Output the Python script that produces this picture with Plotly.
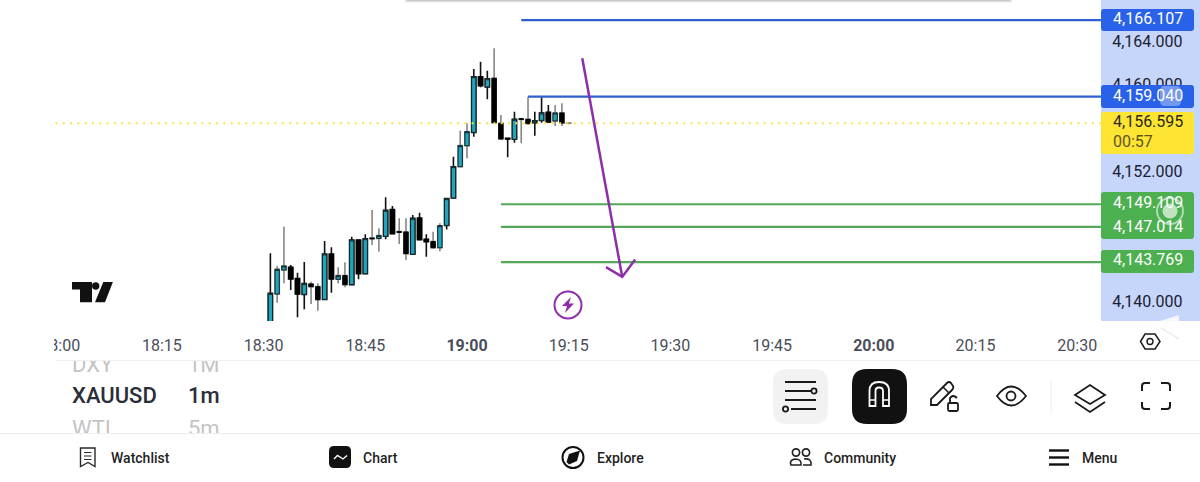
import plotly.graph_objects as go

W, H = 1200, 482
# --- data -----------------------------------------------------------------
minutes = list(range(31, 76))  # minutes after 18:00
opens = [4138.00,4140.82,4143.04,4143.29,4142.24,4140.79,4141.75,4141.50,4140.33,4144.52,4142.18,4142.52,4141.69,4145.81,4142.70,4145.99,4145.96,4146.15,4148.61,4146.58,4146.55,4144.49,4147.84,4145.87,4145.66,4145.10,4147.16,4149.69,4152.58,4154.52,4155.75,4160.89,4159.94,4160.74,4156.58,4155.20,4155.11,4157.00,4156.95,4156.64,4156.86,4157.60,4156.80,4157.54,4156.62]
highs = [4144.58,4143.41,4147.04,4143.50,4142.79,4143.78,4141.96,4141.81,4145.72,4145.13,4143.29,4143.75,4146.12,4145.81,4146.33,4148.58,4146.89,4149.75,4148.95,4147.81,4147.81,4148.12,4148.33,4146.33,4146.58,4147.35,4149.66,4153.50,4155.90,4156.58,4161.60,4162.27,4161.44,4163.51,4157.35,4155.25,4157.66,4157.10,4159.04,4157.66,4158.99,4158.27,4158.27,4158.43,4156.70]
lows = [4137.50,4140.02,4141.81,4141.19,4138.67,4139.41,4139.90,4139.28,4140.33,4140.95,4141.81,4141.44,4141.62,4142.18,4142.70,4145.35,4144.73,4145.87,4146.39,4145.44,4143.96,4144.49,4145.81,4144.27,4145.01,4144.76,4146.79,4149.66,4152.55,4153.35,4155.35,4159.91,4158.80,4156.64,4155.14,4153.45,4154.79,4154.74,4156.43,4155.44,4156.64,4156.64,4156.34,4156.34,4156.50]
closes = [4140.88,4143.10,4143.41,4142.21,4140.82,4141.78,4141.50,4140.30,4144.52,4142.21,4142.52,4141.69,4145.81,4142.70,4145.93,4145.93,4146.21,4148.55,4146.39,4146.52,4144.55,4147.81,4145.84,4145.66,4145.10,4147.13,4149.63,4152.58,4154.52,4155.81,4160.89,4160.06,4160.70,4156.64,4155.14,4155.14,4156.95,4156.95,4156.58,4156.82,4157.54,4156.70,4157.54,4156.61,4156.595]
grey_wick_minutes = [32,33,37,38,41,42,46,47,50,51,55,56,59,60,64,65,68,69,73,74,75]

price_ticks = [4140,4144,4148,4152,4156,4160,4164,4168]
price_tick_labels = ["4,140.000","4,144.000","4,148.000","4,152.000","4,156.000","4,160.000","4,164.000","4,168.000"]
time_ticks = [0,15,30,45,60,75,90,105,120,135,150]
time_tick_labels = ["18:00","18:15","18:30","18:45","<b>19:00</b>","19:15","19:30","19:45","<b>20:00</b>","20:15","20:30"]

last_price = 4156.595
blue_levels = [4166.107, 4159.040]
blue_starts = [68, 69]
green_levels = [4149.109, 4147.014, 4143.769]
green_start = 65
x_end = 153.5
arrow_x = [77, 82.9]
arrow_y = [4162.6, 4142.4]
head_x = [80.5, 82.9, 84.8]
head_y = [4143.3, 4142.4, 4144.0]
symbols = ["DXY", "XAUUSD", "WTI"]
intervals = ["1M", "1m", "5m"]
nav_items = ["Watchlist", "Chart", "Explore", "Community", "Menu"]

# --- style ----------------------------------------------------------------
TEAL, DARK, GREY = "#21a5bb", "#10262c", "#868686"
BLUE, GREEN, YELLOW, PANEL = "#2962e8", "#4caf50", "#ffe533", "#c6d6fb"
BLUE_LINE, GREEN_LINE = "#2f5fd0", "#55a85a"
PURPLE = "#8e2ea8"
L, R, B = 55, 1101, 321
FONT = "Roboto"
TXT_PAD = 2  # annotations sit this many px right of the x they are given

def X(p): return p / W
def Y(p): return 1 - p / H

def P(d):
    """Turn a path written in canvas pixels (M/L/C/Q/Z) into paper coordinates."""
    toks, out, isx = d.split(), [], True
    for t in toks:
        if t.isalpha():
            out.append(t); isx = True
        else:
            out.append(f"{X(float(t)):.5f}" if isx else f"{Y(float(t)):.5f}")
            isx = not isx
    return " ".join(out)

def rrect(x0, y0, x1, y1, r):
    return (f"M {x0+r} {y0} L {x1-r} {y0} Q {x1} {y0} {x1} {y0+r} L {x1} {y1-r} Q {x1} {y1} {x1-r} {y1} "
            f"L {x0+r} {y1} Q {x0} {y1} {x0} {y1-r} L {x0} {y0+r} Q {x0} {y0} {x0+r} {y0} Z")

shapes, annos = [], []
def fill(d, color, layer="above", opacity=1):
    shapes.append(dict(type="path", xref="paper", yref="paper", path=P(d), fillcolor=color,
                       line=dict(width=0), layer=layer, opacity=opacity))
def stroke(d, color="#131722", w=2, layer="above", opacity=1):
    shapes.append(dict(type="path", xref="paper", yref="paper", path=P(d), line=dict(color=color, width=w),
                       fillcolor="rgba(0,0,0,0)", layer=layer, opacity=opacity))
def circle(cx, cy, r, line=None, fc="rgba(0,0,0,0)", w=2, opacity=1):
    shapes.append(dict(type="circle", xref="paper", yref="paper", x0=X(cx-r), x1=X(cx+r), y0=Y(cy+r), y1=Y(cy-r),
                       fillcolor=fc, line=dict(color=line or "rgba(0,0,0,0)", width=w if line else 0), layer="above", opacity=opacity))
def text(x, y, s, size=14, color="#131722", weight=400):
    annos.append(dict(xref="paper", yref="paper", x=X(x - TXT_PAD), y=Y(y), text=s, showarrow=False,
                      xanchor="left", yanchor="middle", font=dict(family=FONT, size=size, color=color, weight=weight)))

# --- traces ---------------------------------------------------------------
fig = go.Figure()
def wick_trace(keep, color):
    idx = [i for i, m in enumerate(minutes) if keep(m)]
    fig.add_trace(go.Candlestick(
        x=[minutes[i] for i in idx], open=[opens[i] for i in idx], high=[highs[i] for i in idx],
        low=[lows[i] for i in idx], close=[closes[i] for i in idx], whiskerwidth=0,
        increasing=dict(line=dict(color=color, width=1.6), fillcolor=color),
        decreasing=dict(line=dict(color=color, width=1.6), fillcolor=color), showlegend=False))
wick_trace(lambda m: m in grey_wick_minutes, GREY)
wick_trace(lambda m: m not in grey_wick_minutes, "#111111")
# bodies on top of the wicks; the still-forming last bar stays a grey tick
fig.add_trace(go.Candlestick(
    x=minutes[:-1], open=opens[:-1], close=closes[:-1],
    high=[max(o, c) for o, c in zip(opens[:-1], closes[:-1])], low=[min(o, c) for o, c in zip(opens[:-1], closes[:-1])],
    whiskerwidth=0,
    increasing=dict(line=dict(color=DARK, width=1), fillcolor=TEAL),
    decreasing=dict(line=dict(color="#000000", width=1), fillcolor="#000000"), showlegend=False))

def hline(xs, level, color, width, dash="solid"):
    fig.add_trace(go.Scatter(x=xs, y=[level, level], mode="lines", showlegend=False,
                             line=dict(color=color, width=width, dash=dash)))
hline([-0.7, x_end], last_price, "#fde04a", 2, "2px 5.3px")
for lv, st in zip(blue_levels, blue_starts):
    hline([st, x_end], lv, BLUE_LINE, 2.2)
for lv in green_levels:
    hline([green_start, x_end], lv, GREEN_LINE, 2.2)
fig.add_trace(go.Scatter(x=arrow_x, y=arrow_y, mode="lines", line=dict(color=PURPLE, width=2.5), showlegend=False))
fig.add_trace(go.Scatter(x=head_x, y=head_y, mode="lines", line=dict(color=PURPLE, width=2.5), showlegend=False))

# symbol list: a small subplot so its rows are clipped at the band edges like the scrolling wheel
list_rows = [366.5, 397.6, 430]
for col_x, labels in ((72, symbols), (188, intervals)):
    fig.add_trace(go.Scatter(
        x=[col_x] * 3, y=list_rows, text=labels, mode="text", textposition="middle right", cliponaxis=True,
        xaxis="x2", yaxis="y2", showlegend=False,
        textfont=dict(family=FONT, size=22, weight=[400, 500, 400], color=["#c4c4c4", "#2a2e39", "#c4c4c4"])))

# --- chrome ---------------------------------------------------------------
shapes.append(dict(type="rect", xref="paper", yref="paper", x0=X(R), x1=1, y0=Y(B), y1=1, fillcolor=PANEL,
                   line=dict(width=0), layer="below"))
shapes.append(dict(type="rect", xref="paper", yref="paper", x0=0, x1=X(L-1), y0=Y(360), y1=Y(325), fillcolor="white", line=dict(width=0), layer="above"))
for i, (col, yb) in enumerate([("#ececec", 2.5), ("#d8d8d8", 1.5), ("#c4c4c4", 0.7)]):
    fill(f"M {407-2+i} 0 L {1010+2-i} 0 L {1010+2-i} {yb} L {407-2+i} {yb} Z", col)
# dividers
fill("M 55 360 L 1200 360 L 1200 361 L 55 361 Z", "#f0f0f0")
fill("M 0 433 L 1200 433 L 1200 434 L 0 434 Z", "#eeeeee")

# price tags (covering the axis labels behind them)
def tag(y0, y1, c): fill(rrect(1101, y0, 1194, y1, 3), c)
tag(9, 31, BLUE); tag(85, 108, BLUE); tag(112, 154, YELLOW); tag(192, 239, GREEN); tag(250, 273, GREEN)
fill(rrect(1160, 86, 1181, 106, 5), "#ffffff", opacity=0.35)
text(1113, 18.5, "4,166.107", 16, "#ffffff")
text(1113, 95.5, "4,159.040", 16, "#ffffff")
text(1113, 121.5, "4,156.595", 16, "#2a2a20")
text(1113, 141, "00:57", 16, "#5c5520")
text(1113, 202.5, "4,149.109", 16, "#ffffff")
text(1113, 226.5, "4,147.014", 16, "#ffffff")
text(1113, 259.5, "4,143.769", 16, "#ffffff")
circle(1170, 211, 13, "#ffffff", "rgba(0,0,0,0)", 2, 0.55)
circle(1170, 211, 7.5, None, "#ffffff", 0, 0.65)
# faint chevron at panel corner
fill("M 1160 321 L 1179 315 L 1179 321 Z", "#ffffff", opacity=0.8)
stroke("M 1161 328 L 1179 339", "#eeeeee", 1.5)
# settings hexagon
stroke("M 1140.5 341.5 L 1145 334 L 1155 334 L 1160 341.5 L 1155 349 L 1145 349 Z", "#1b1b1b", 1.5)
circle(1150, 341.5, 3, "#1b1b1b", w=1.4)

# TradingView logo
fill("M 72 282 L 92 282 L 92 302.3 L 80 302.3 L 80 289.5 L 72 289.5 Z", "#111111")
circle(95.7, 286, 3.7, None, "#111111", 0)
fill("M 103.3 282 L 112.9 282 L 105 302.3 L 95 302.3 Z", "#111111")

# bolt badge
circle(568, 305, 13.5, PURPLE, w=2)
fill("M 571 297 L 562 306 L 567 306 L 565 313 L 574 303.5 L 569 303.5 Z", PURPLE)

# toolbar
fill(rrect(773, 369, 828, 424, 14), "#f2f2f2")
for a, b, yy in [(785, 816, 382), (785, 811, 391), (785, 816, 400), (791, 816, 409)]:
    stroke(f"M {a} {yy} L {b} {yy}", "#1a1a1a", 2)
circle(814, 391, 2.6, "#1a1a1a", "#f2f2f2", 1.8)
circle(785.5, 409, 2.6, "#1a1a1a", "#f2f2f2", 1.8)
fill(rrect(852, 369, 907, 424, 15), "#111111")
stroke("M 869.5 406 L 869.5 391 Q 869.5 382 879 382 Q 889 382 889 391 L 889 406 L 883 406 L 883 391 Q 883 387.5 879 387.5 Q 875.5 387.5 875.5 391 L 875.5 406 Z", "#ffffff", 1.8)
stroke("M 869.5 400 L 875.5 400 M 883 400 L 889 400", "#ffffff", 1.6)
# pencil and lock
stroke("M 931 405 L 931 399 L 947 383 Q 949 381 951 383 L 953 386 Q 954 388 952 390 L 937 405 Z", "#1a1a1a", 1.8)
stroke("M 943 387 L 949 393", "#1a1a1a", 1.5)
stroke(rrect(948, 403, 958, 411, 1.5), "#1a1a1a", 1.8)
stroke("M 950 402 L 950 398 Q 953 394 957 398", "#1a1a1a", 1.8)
# eye
stroke("M 997 396 Q 1011 377 1026 396 Q 1011 415 997 396 Z", "#1a1a1a", 1.8)
circle(1011, 396, 4.5, "#1a1a1a", w=1.8)
# separators
fill("M 1050.5 380 L 1051.5 380 L 1051.5 414 L 1050.5 414 Z", "#eeeeee")
# layers
stroke("M 1075 395 L 1090 385 L 1105 395 L 1090 404 Z", "#1a1a1a", 1.8)
stroke("M 1075 402 L 1090 412 L 1105 402", "#1a1a1a", 1.8)
# fullscreen
stroke("M 1142 391 L 1142 386 Q 1142 383 1145 383 L 1150 383 M 1161 383 L 1167 383 Q 1170 383 1170 386 L 1170 391 M 1170 402 L 1170 406 Q 1170 409 1167 409 L 1161 409 M 1150 409 L 1145 409 Q 1142 409 1142 406 L 1142 402", "#1a1a1a", 2)

# bottom navigation
stroke("M 80.5 448 L 95 448 L 95 466.5 L 88 462.5 L 80.5 466.5 Z", "#2a2a2a", 1.4)
stroke("M 84 452.5 L 91.5 452.5 M 84 456 L 91.5 456 M 84 459.5 L 91.5 459.5", "#2a2a2a", 1.2)
text(111, 457.5, nav_items[0], 14, "#1f1f1f", 500)
fill(rrect(329, 446, 351, 468, 5), "#111111")
stroke("M 334 459 L 337.5 455.5 L 343 459 L 347 455.5", "#ffffff", 1.4)
text(363, 457.5, nav_items[1], 14, "#1f1f1f", 500)
circle(573, 457.5, 10.5, "#111111", w=2)
fill("M 580 450.5 L 577 461 L 569 464.5 L 566.5 462 L 569 454 Z", "#111111")
text(597, 457.5, nav_items[2], 14, "#1f1f1f", 500)
circle(796, 452.5, 3.6, "#222222", w=1.7); circle(806, 452.5, 3.6, "#222222", w=1.7)
stroke("M 791 465 Q 789 460 795 459 Q 802 459 801 465 Z", "#222222", 1.6)
stroke("M 804 459 Q 812 458 811 465 L 803 465", "#222222", 1.6)
text(824, 457.5, nav_items[3], 14, "#1f1f1f", 500)
for yy in (450.5, 457.5, 464.5):
    fill(f"M 1049 {yy-1.2} L 1069 {yy-1.2} L 1069 {yy+1.2} L 1049 {yy+1.2} Z", "#111111")
text(1082, 457.5, nav_items[4], 14, "#1f1f1f", 500)

# --- layout ---------------------------------------------------------------
PX_PER_MIN = 6.78
x0 = 60 + (L - 467) / PX_PER_MIN
x1 = 60 + (R - 467) / PX_PER_MIN
PX_PER_UNIT = 10.83
y_top = 4164 + 43 / PX_PER_UNIT
y_bot = 4164 - (B - 43) / PX_PER_UNIT
fig.update_layout(
    width=W, height=H, margin=dict(l=0, r=0, t=0, b=0), plot_bgcolor="white", paper_bgcolor="white",
    boxmode="overlay", boxgap=0.1, showlegend=False, shapes=shapes, annotations=annos,
    font=dict(family=FONT),
    xaxis=dict(domain=[X(L), X(R)], range=[x0, x1], tickmode="array", tickvals=time_ticks, ticktext=time_tick_labels,
               automargin=False,
               showgrid=False, zeroline=False, showline=False, ticks="outside", ticklen=10, tickcolor="rgba(0,0,0,0)",
               tickfont=dict(family=FONT, size=16, color="#4a4e59"), rangeslider=dict(visible=False), fixedrange=True),
    yaxis=dict(domain=[Y(B), 1], range=[y_bot, y_top], side="right", tickmode="array", tickvals=price_ticks,
               automargin=False,
               ticktext=price_tick_labels, showgrid=False, zeroline=False, showline=False, ticks="outside", ticklen=7,
               tickcolor="rgba(0,0,0,0)", ticklabelshift=-2, tickfont=dict(family=FONT, size=16, color="#1c2030"), fixedrange=True),
    xaxis2=dict(domain=[X(60), X(240)], range=[60, 240], anchor="y2", visible=False, automargin=False, fixedrange=True),
    yaxis2=dict(domain=[Y(433), Y(361)], range=[433, 361], anchor="x2", visible=False, automargin=False, fixedrange=True),
)
fig.write_html("out.html", config=dict(displayModeBar=False),
               post_script="document.body.style.margin='0';document.body.style.overflow='hidden';")
